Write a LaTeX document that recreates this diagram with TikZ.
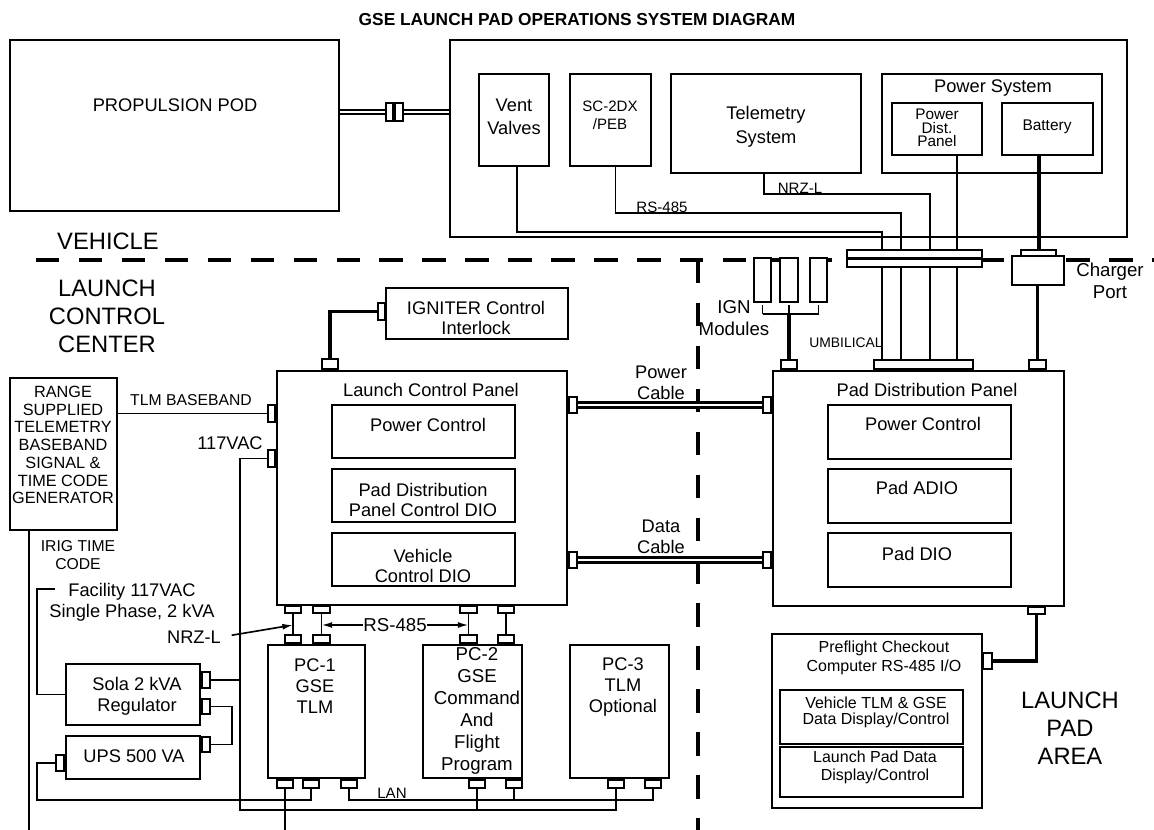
\documentclass[tikz,border=0pt]{standalone}
\usepackage{fontspec}
\setmainfont{Liberation Sans}
\usetikzlibrary{fit,arrows.meta}
\begin{document}
\begin{tikzpicture}[x=0.75pt,y=-0.75pt,
  box/.style={draw, line width=2pt, inner sep=0pt},
  cn/.style={draw, fill=white, line width=1.5pt, inner sep=0pt},
  wire/.style={line width=1.25pt},
  hw/.style={line width=2.8pt},
  cable/.style={double, line width=1.9pt, double distance=1.5pt},
  podcable/.style={double, line width=1.4pt, double distance=2.2pt},
  zone/.style={line width=2.3pt, dash pattern=on 17.6pt off 14.6pt},
  lbl/.style={inner sep=0pt, align=center, font=\fontsize{13.7}{15.75}\selectfont},
  sml/.style={inner sep=0pt, align=center, font=\fontsize{11.6}{13.5}\selectfont},
  big/.style={inner sep=0pt, align=center, font=\fontsize{17.8}{21}\selectfont},
  arr/.style={wire, -{Latex[length=8pt,width=4.5pt]}},
  darr/.style={wire, {Latex[length=8pt,width=4.5pt]}-{Latex[length=8pt,width=4.5pt]}}
]
\useasboundingbox (0,0) rectangle (1154,830);

% zone boundaries
\coordinate (zl) at (36,260);
\coordinate (zr) at (1154,260);
\coordinate (zt) at (698,260);
\coordinate (zb) at (698,830);
\draw[zone] (zl) -- (zr);
\draw[zone] (zt) -- (zb);

% title and zone labels
\node[inner sep=0pt, font=\fontsize{13}{15}\selectfont\bfseries] (title) at (577,20) {GSE LAUNCH PAD OPERATIONS SYSTEM DIAGRAM};
\node[big] (tVeh) at (108,241) {VEHICLE};
\node[big] (tLcc) at (107,316) {LAUNCH\\CONTROL\\CENTER};
\node[big] (tLpa) at (1070,728) {LAUNCH\\PAD\\AREA};

% vehicle
\node[box, fit={(10,40) (339,211)}] (pod) {};
\node[lbl] (tPod) at (175,105) {PROPULSION POD};
\node[cn, fit={(386,103) (393,121)}] (pc1) {};
\node[cn, fit={(395,103) (403,121)}] (pc2) {};
\node[box, fit={(450,40) (1127,237)}] (veh) {};
\node[box, fit={(479,74) (549,166)}] (vent) {};
\node[lbl, font=\fontsize{13.7}{17.25}\selectfont] (tVent) at (514,117) {Vent\\Valves};
\node[box, fit={(570,74) (651,166)}] (sc) {};
\node[sml, font=\fontsize{11.3}{13.5}\selectfont] (tSc) at (610,115) {SC-2DX\\/PEB};
\node[box, fit={(671,74) (861,173)}] (tel) {};
\node[lbl, font=\fontsize{13.7}{18}\selectfont] (tTel) at (766,127) {Telemetry\\System};
\node[box, fit={(882,74) (1102,173)}] (psys) {};
\node[lbl] (tPsys) at (993,88) {Power System};
\node[box, fit={(892,103) (982,155)}] (pdp) {};
\node[sml, font=\fontsize{11.5}{10}\selectfont] (tPdp) at (937,128) {Power\\Dist.\\Panel};
\node[box, fit={(1002,103) (1093,155)}] (bat) {};
\node[sml] (tBat) at (1047,127) {Battery};
\node[sml, font=\fontsize{11.3}{13}\selectfont] (tRs1) at (662,207) {RS-485};
\node[sml, font=\fontsize{11.3}{13}\selectfont] (tNrz1) at (800,188) {NRZ-L};

% umbilical, charger, IGN modules
\node[cn, fit={(847,250) (982,267)}] (umbT) {};
\node[cn, fit={(1021,250) (1056,256)}] (chgS) {};
\node[cn, fit={(1012,256) (1064,285)}] (chgB) {};
\node[lbl, font=\fontsize{14}{16.5}\selectfont] (tChg) at (1110,281) {Charger\\Port};
\node[cn, line width=1.8pt, fit={(754,258) (771,302)}] (ig1) {};
\node[cn, line width=1.8pt, fit={(780,258) (798,302)}] (ig2) {};
\node[cn, line width=1.8pt, fit={(810,258) (827,302)}] (ig3) {};
\node[lbl, font=\fontsize{14}{16.5}\selectfont] (tIgn) at (734,318) {IGN\\Modules};
\node[inner sep=0pt, font=\fontsize{10.4}{12}\selectfont] (tUmb) at (846,343) {UMBILICAL};

% pad distribution panel
\node[box, fit={(773,371) (1064,606)}] (pad) {};
\node[lbl] (tPad) at (927,390) {Pad Distribution Panel};
\node[box, fit={(828,405) (1011,459)}] (padPw) {};
\node[lbl] (tPadPw) at (923,424) {Power Control};
\node[box, fit={(828,469) (1011,523)}] (padA) {};
\node[lbl] (tPadA) at (917,488) {Pad ADIO};
\node[box, fit={(828,533) (1011,587)}] (padD) {};
\node[lbl] (tPadD) at (917,554) {Pad DIO};
\node[cn, fit={(874,360) (973,369)}] (umbB) {};
\node[cn, fit={(781,360) (797,369)}] (igC2) {};
\node[cn, fit={(1029,360) (1046,369)}] (chgC) {};
\node[cn, fit={(763,397) (771,413)}] (padL1) {};
\node[cn, fit={(763,552) (771,568)}] (padL2) {};
\node[cn, fit={(1028,607) (1045,614)}] (padB) {};

% launch control panel
\node[box, fit={(277,371) (567,605)}] (lcp) {};
\node[lbl] (tLcp) at (431,390) {Launch Control Panel};
\node[box, fit={(332,405) (515,458)}] (lcPw) {};
\node[lbl] (tLcPw) at (428,425) {Power Control};
\node[box, fit={(332,469) (515,522)}] (lcPd) {};
\node[lbl, font=\fontsize{13.7}{15}\selectfont] (tLcPd) at (423,500) {Pad Distribution\\Panel Control DIO};
\node[box, fit={(332,533) (515,586)}] (lcVc) {};
\node[lbl, font=\fontsize{13.7}{15}\selectfont] (tLcVc) at (423,566) {Vehicle\\Control DIO};
\node[box, fit={(386,288) (568,339)}] (igb) {};
\node[lbl, font=\fontsize{13.7}{15}\selectfont] (tIgb) at (476,318) {IGNITER Control\\Interlock};
\node[cn, fit={(378,303) (385,320)}] (igbC) {};
\node[cn, fit={(322,359) (338,369)}] (lcT) {};
\node[cn, fit={(268,405) (275,422)}] (lcTlm) {};
\node[cn, fit={(268,450) (275,467)}] (lcAc) {};
\node[cn, fit={(569,397) (577,413)}] (lcR1) {};
\node[cn, fit={(569,552) (577,568)}] (lcR2) {};
\node[lbl] (tPwc) at (661,383) {Power\\Cable};
\node[lbl] (tDc) at (661,537) {Data\\Cable};

% range equipment
\node[box, fit={(10,378) (117,530)}] (rng) {};
\node[inner sep=0pt, align=center, font=\fontsize{12.2}{13.3}\selectfont] (tRng) at (63,445) {RANGE\\SUPPLIED\\TELEMETRY\\BASEBAND\\SIGNAL \&\\TIME CODE\\GENERATOR};
\node[sml, font=\fontsize{11.8}{13}\selectfont] (tTlmB) at (191,400) {TLM BASEBAND};
\node[lbl] (tAc) at (230,443) {117VAC};
\node[sml, font=\fontsize{11.8}{13.3}\selectfont] (tIrig) at (78,555) {IRIG TIME\\CODE};
\node[lbl] (tFac) at (132,602) {Facility 117VAC\\Single Phase, 2 kVA};

% power conditioning
\node[box, fit={(66,664) (200,725)}] (sola) {};
\node[lbl] (tSola) at (137,696) {Sola 2 kVA\\Regulator};
\node[cn, fit={(202,672) (210,688)}] (sC1) {};
\node[cn, fit={(202,699) (210,714)}] (sC2) {};
\node[box, fit={(66,736) (200,779)}] (ups) {};
\node[lbl] (tUps) at (134,756) {UPS 500 VA};
\node[cn, fit={(202,737) (210,752)}] (uC1) {};
\node[cn, fit={(56,755) (64,771)}] (uC2) {};
\node[lbl] (tNrz) at (194,637) {NRZ-L};

% computers
\node[box, fit={(268,645) (365,778)}] (pcA) {};
\node[lbl] (tPcA) at (315,686) {PC-1\\GSE\\TLM};
\node[box, fit={(423,645) (522,778)}] (pcB) {};
\node[lbl, font=\fontsize{14}{16.6}\selectfont] (tPcB) at (477,711) {PC-2\\GSE\\Command\\And\\Flight\\Program};
\node[box, fit={(570,645) (669,778)}] (pcC) {};
\node[lbl] (tPcC) at (623,687) {PC-3\\TLM\\Optional};
\node[cn, fit={(285,606) (301,613)}] (lb1) {};
\node[cn, fit={(313,606) (330,613)}] (lb2) {};
\node[cn, fit={(460,606) (477,613)}] (lb3) {};
\node[cn, fit={(498,606) (514,613)}] (lb4) {};
\node[cn, fit={(285,635) (301,643)}] (pt1) {};
\node[cn, fit={(313,635) (330,643)}] (pt2) {};
\node[cn, fit={(460,635) (477,643)}] (pt3) {};
\node[cn, fit={(498,635) (514,643)}] (pt4) {};
\node[cn, fit={(277,780) (293,788)}] (p1b1) {};
\node[cn, fit={(303,780) (319,788)}] (p1b2) {};
\node[cn, fit={(341,780) (357,788)}] (p1b3) {};
\node[cn, fit={(469,780) (485,788)}] (p2b1) {};
\node[cn, fit={(506,780) (522,788)}] (p2b2) {};
\node[cn, fit={(608,780) (624,788)}] (p3b1) {};
\node[cn, fit={(645,780) (661,788)}] (p3b2) {};
\node[sml, font=\fontsize{11.3}{13}\selectfont] (tLan) at (392,793) {LAN};

% preflight checkout
\node[box, fit={(772,634) (982,808)}] (pf) {};
\node[inner sep=0pt, align=center, font=\fontsize{12}{14.25}\selectfont] (tPf) at (884,658) {Preflight Checkout\\Computer RS-485 I/O};
\node[box, fit={(780,690) (963,744)}] (pf1) {};
\node[inner sep=0pt, align=center, font=\fontsize{12}{12}\selectfont] (tPf1) at (876,712) {Vehicle TLM \& GSE\\Data Display/Control};
\node[box, fit={(780,747) (963,797)}] (pf2) {};
\node[inner sep=0pt, align=center, font=\fontsize{12}{13.5}\selectfont] (tPf2) at (875,767) {Launch Pad Data\\Display/Control};
\node[cn, fit={(983,653) (992,669)}] (pfC) {};

% ---------------- connections ----------------
\draw[podcable] (pc1.west -| pod.east) -- (pc1.west);
\draw[podcable] (pc2.east) -- (pc2.east -| veh.west);

\coordinate (vw1) at (882,232);
\coordinate (vw2) at (901,213);
\coordinate (vw3) at (930,194);
\coordinate (vw4) at (957,200);
\draw[wire] (vent.south) ++(3,0) |- (vw1) -- (vw1 |- umbT.north);
\draw[wire] (sc.south) ++(5,0) |- (vw2) -- (vw2 |- umbT.north);
\draw[wire] (tel.south) ++(-2,0) |- (vw3) -- (vw3 |- umbT.north);
\draw[wire] (pdp.south) ++(20,0) -- (vw4 |- umbT.north);
\draw[line width=3pt] (chgS.north |- bat.south) -- (chgS.north);
\draw[line width=2.2pt] (umbT.west) -- (umbT.east);
\foreach \c in {vw1,vw2,vw3,vw4} \draw[wire] (\c |- umbT.south) -- (\c |- umbB.north);
\draw[hw] (chgB.south -| chgC.north) -- (chgC.north);

\coordinate (igBus) at (0,314);
\foreach \n in {ig1,ig2,ig3} \draw[wire] (\n.south) ++(0,2) -- (\n.south |- igBus);
\draw[wire] (ig1.south |- igBus) -- (ig3.south |- igBus);
\draw[hw] (igC2.north |- igBus) -- (igC2.north);

\draw[hw] (igbC.west) -| (lcT.north);
\draw[cable] (lcR1.east) -- (padL1.west);
\draw[cable] (lcR2.east) -- (padL2.west);

\draw[wire] (lcTlm.west) -- (lcTlm.west -| rng.east);
\coordinate (busA) at (240,810);
\draw[wire] (lcAc.west) -| (busA) -- (busA -| p3b1.south) -- (p3b1.south);
\draw[wire] (sC1.east) -- (sC1.east -| busA);
\draw[wire] (sC2.east) -- ++(21,0) |- (uC1.east);
\coordinate (upsC) at (37,800);
\draw[wire] (uC2.west) -| (upsC) -| (p1b2.south);
\coordinate (facC) at (37,589);
\coordinate (facE) at (55,589);
\draw[wire] (sola.west) -| (facC) -- (facE);
\coordinate (irigE) at (29,832);
\draw[wire] (irigE |- rng.south) -- (irigE);
\coordinate (pcE) at (285,832);
\draw[wire] (p1b1.south) -- (p1b1.south |- pcE);
\coordinate (lanY) at (0,800);
\draw[wire] (p1b3.south) |- (p3b2.south |- lanY) -- (p3b2.south);
\draw[wire] (p2b2.south) -- (p2b2.south |- lanY);
\draw[wire] (p2b1.south) -- (p2b1.south |- busA);

\foreach \i in {1,2,3,4} \draw[wire] (lb\i.south) -- (pt\i.north);
\coordinate (rsY) at (0,625);
\draw[darr] (lb2.south |- rsY) -- (lb3.south |- rsY) node[midway, fill=white, inner sep=0.5pt, font=\fontsize{14}{16}\selectfont] (tRs2) {RS-485};
\draw[arr, shorten <=8pt] (tNrz.east) -- (lb1.south |- rsY);

\draw[hw] (pfC.east) -| (padB.south);
\end{tikzpicture}
\end{document}
